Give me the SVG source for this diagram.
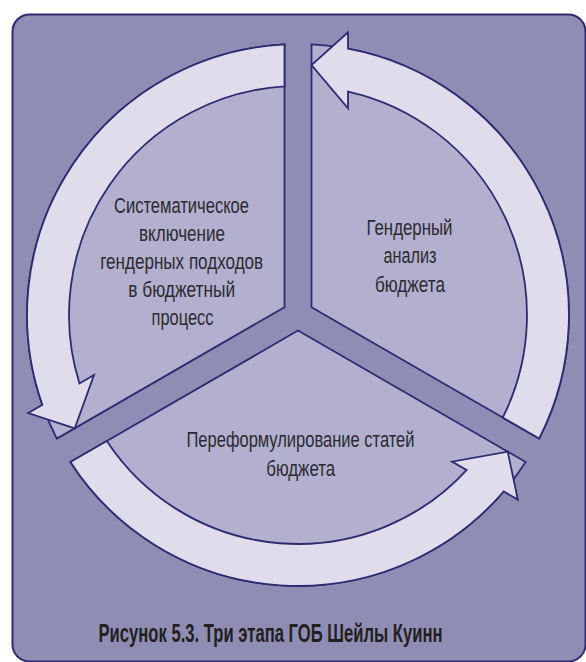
<svg xmlns="http://www.w3.org/2000/svg" width="586" height="662" viewBox="0 0 586 662">
<style>
.frame{fill:#908db5;stroke:#2f2a72;stroke-width:2}
.sector{fill:#b3b0cf;stroke:#2f2a72;stroke-width:1.8;stroke-linejoin:miter}
.arrow{fill:#dfdceb;stroke:#2f2a72;stroke-width:1.8;stroke-linejoin:miter}
.lbl{font-family:"Liberation Sans","DejaVu Sans",sans-serif;font-size:22.5px;fill:#2b2a30;text-anchor:middle}
.cap{font-family:"Liberation Sans","DejaVu Sans",sans-serif;font-size:26px;font-weight:bold;fill:#231f20;text-anchor:middle}
</style>
<defs>
<path id="sectorShape" d="M 311.5,307.2 L 539.1,438.6 A 271 271 0 0 0 311.5,44.34 Z"/>
<path id="arrowShape" d="M 502.7,417.6 L 539.1,438.6 A 271 271 0 0 0 348,48.65 L 348,32.3 L 311.5,65 L 348,108.3 L 348,91.53 A 229 229 0 0 1 502.7,417.6 Z"/>
</defs>
<rect width="586" height="662" fill="#ffffff"/>
<rect class="frame" x="12.5" y="14.5" width="573" height="647" rx="17"/>
<g id="node-analysis">
<use href="#sectorShape" class="sector"/>
<text class="lbl"><tspan x="409.5" y="235" textLength="86" lengthAdjust="spacingAndGlyphs">Гендерный</tspan><tspan x="410" y="263.3" textLength="53" lengthAdjust="spacingAndGlyphs">анализ</tspan><tspan x="410" y="291.7" textLength="70" lengthAdjust="spacingAndGlyphs">бюджета</tspan></text>
</g>
<g id="node-mainstreaming">
<use href="#sectorShape" class="sector" transform="rotate(-120 298 315)"/>
<text class="lbl"><tspan x="181.5" y="213" textLength="135" lengthAdjust="spacingAndGlyphs">Систематическое</tspan><tspan x="182" y="241" textLength="86" lengthAdjust="spacingAndGlyphs">включение</tspan><tspan x="181.7" y="269" textLength="163" lengthAdjust="spacingAndGlyphs">гендерных подходов</tspan><tspan x="181.7" y="297" textLength="107" lengthAdjust="spacingAndGlyphs">в бюджетный</tspan><tspan x="182.5" y="325" textLength="62" lengthAdjust="spacingAndGlyphs">процесс</tspan></text>
</g>
<g id="node-reformulation">
<use href="#sectorShape" class="sector" transform="rotate(120 298 315)"/>
<text class="lbl"><tspan x="300.5" y="446.7" textLength="228" lengthAdjust="spacingAndGlyphs">Переформулирование статей</tspan><tspan x="300.7" y="476" textLength="69" lengthAdjust="spacingAndGlyphs">бюджета</tspan></text>
</g>
<g id="connectors">
<use href="#arrowShape" class="arrow"/>
<use href="#arrowShape" class="arrow" transform="rotate(-120 298 315)"/>
<use href="#arrowShape" class="arrow" transform="rotate(120 298 315)"/>
</g>
<text id="caption" class="cap" x="270.5" y="641.7" textLength="344" lengthAdjust="spacingAndGlyphs">Рисунок 5.3. Три этапа ГОБ Шейлы Куинн</text>
</svg>
